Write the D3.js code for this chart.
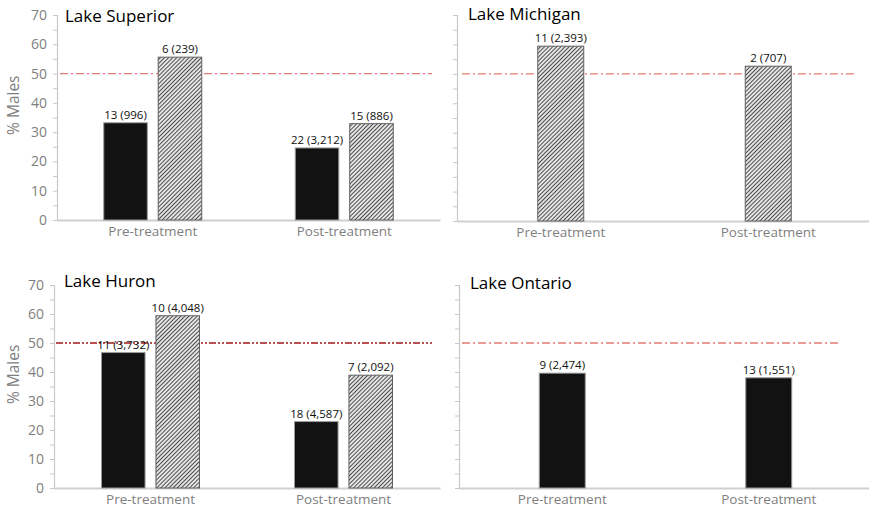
<!DOCTYPE html>
<html>
<head>
<meta charset="utf-8">
<script src="https://cdn.jsdelivr.net/npm/d3@7"></script>
<style>
  html, body { margin: 0; padding: 0; background: #fff; }
  svg { display: block; font-family: "Open Sans", sans-serif; }
</style>
</head>
<body>
<svg id="chart" width="869" height="512"></svg>
<script>
// Sex ratio (% males) of sampled lamprey, before and after treatment, per lake.
const lakes = ["Lake Superior", "Lake Michigan", "Lake Huron", "Lake Ontario"];
const categories = ["Pre-treatment", "Post-treatment"];
const yTicks = [0, 10, 20, 30, 40, 50, 60, 70];
const referenceValue = 50;

// Solid (black) series per lake: [pre, post]
const solidValues = [[33.2, 24.6], [null, null], [46.7, 22.9], [39.6, 38.0]];
const solidLabels = [["13 (996)", "22 (3,212)"], [null, null], ["11 (3,732)", "18 (4,587)"], ["9 (2,474)", "13 (1,551)"]];

// Hatched series per lake: [pre, post]
const hatchedValues = [[55.6, 32.9], [59.4, 52.6], [59.4, 38.9], [null, null]];
const hatchedLabels = [["6 (239)", "15 (886)"], ["11 (2,393)", "2 (707)"], ["10 (4,048)", "7 (2,092)"], [null, null]];

// Panel geometry
const panels = [
  { x0: 57,  x1: 440, top: 15,  bottom: 220, yLabels: true,  titleDx: 8,  titleDy: 7, refColor: "#e57b74", refDash: "8,3,2,3", refX: [60, 432] },
  { x0: 457, x1: 872, top: 15,  bottom: 221, yLabels: false, titleDx: 11, titleDy: 5, refColor: "#e57b74", refDash: "8,3,2,3", refX: [462, 857] },
  { x0: 54,  x1: 440, top: 285, bottom: 488, yLabels: true,  titleDx: 10, titleDy: 2, refColor: "#a01818", refDash: "7,2,2,2,2,2", refX: [56, 432] },
  { x0: 459, x1: 872, top: 285, bottom: 488, yLabels: false, titleDx: 11, titleDy: 4, refColor: "#e57b74", refDash: "8,3,2,3", refX: [462, 838] }
];

const svg = d3.select("#chart");

// Diagonal hatch fill
const hs = 2.9;
const defs = svg.append("defs");
const pat = defs.append("pattern")
  .attr("id", "hatch")
  .attr("patternUnits", "userSpaceOnUse")
  .attr("width", hs).attr("height", hs)
  .attr("patternTransform", "rotate(45)");
pat.append("rect").attr("width", hs).attr("height", hs).attr("fill", "#e4e4e4");
pat.append("line").attr("x1", 0).attr("y1", 0).attr("x2", 0).attr("y2", hs)
  .attr("stroke", "#2a2a2a").attr("stroke-width", 1.6);

lakes.forEach((lake, i) => {
  const p = panels[i];
  const g = svg.append("g");

  const y = d3.scaleLinear().domain([0, 70]).range([p.bottom, p.top]);
  const x0 = d3.scaleBand().domain(categories).range([p.x0, p.x1]).padding(0);

  const hasSolid = solidValues[i].some(v => v != null);
  const hasHatched = hatchedValues[i].some(v => v != null);
  const series = [];
  if (hasSolid) series.push("solid");
  if (hasHatched) series.push("hatched");

  const groupW = series.length === 2 ? 98 : 46;
  const x1 = d3.scaleBand().domain(series).range([0, groupW]).paddingInner(series.length === 2 ? 0.2 : 0);

  // y axis
  const yAxis = d3.axisLeft(y)
    .tickValues(d3.range(0, 71, 5))
    .tickSize(4)
    .tickPadding(6)
    .tickFormat(d => (p.yLabels && yTicks.includes(d)) ? d : "");
  const ya = g.append("g").attr("transform", `translate(${p.x0},0)`).call(yAxis);
  ya.select(".domain").attr("stroke", "#c8c8c8").attr("stroke-width", 1.2);
  ya.selectAll(".tick line").attr("stroke", "#c8c8c8");
  ya.selectAll(".tick text")
    .attr("fill", "#808080")
    .style("font-size", "14px")
    .style("font-family", "'Open Sans', sans-serif");

  // x axis
  const xAxis = d3.axisBottom(x0).tickSize(0).tickPadding(6);
  const xa = g.append("g").attr("transform", `translate(0,${p.bottom})`).call(xAxis);
  xa.select(".domain").attr("stroke", "#d0d0d0").attr("stroke-width", 2);
  xa.selectAll(".tick text")
    .attr("fill", "#808080")
    .style("font-size", "13.5px")
    .style("font-family", "'Open Sans', sans-serif");

  // reference line at 50%
  g.append("line")
    .attr("x1", p.refX[0]).attr("x2", p.refX[1])
    .attr("y1", y(referenceValue)).attr("y2", y(referenceValue))
    .attr("stroke", p.refColor)
    .attr("stroke-width", 1.3)
    .attr("stroke-dasharray", p.refDash);

  // bars
  const rows = [];
  categories.forEach((c, j) => {
    if (hasSolid && solidValues[i][j] != null)
      rows.push({ cat: c, s: "solid", v: solidValues[i][j], label: solidLabels[i][j] });
    if (hasHatched && hatchedValues[i][j] != null)
      rows.push({ cat: c, s: "hatched", v: hatchedValues[i][j], label: hatchedLabels[i][j] });
  });

  const barX = d => x0(d.cat) + (x0.bandwidth() - groupW) / 2 + x1(d.s);

  g.selectAll("rect.bar").data(rows).join("rect")
    .attr("class", "bar")
    .attr("x", barX)
    .attr("y", d => y(d.v))
    .attr("width", x1.bandwidth())
    .attr("height", d => y(0) - y(d.v))
    .attr("fill", d => d.s === "solid" ? "#121212" : "url(#hatch)")
    .attr("stroke", d => d.s === "solid" ? "#9a9a9a" : "#606060")
    .attr("stroke-width", 1);

  g.selectAll("text.val").data(rows).join("text")
    .attr("class", "val")
    .attr("x", d => barX(d) + x1.bandwidth() / 2)
    .attr("y", d => y(d.v) - 4)
    .attr("text-anchor", "middle")
    .attr("fill", "#111")
    .style("font-size", "11.5px")
    .text(d => d.label);

  // title
  g.append("text")
    .attr("x", p.x0 + p.titleDx)
    .attr("y", p.top + p.titleDy)
    .attr("fill", "#000")
    .style("font-size", "17px")
    .text(lake);

  // y axis title
  if (p.yLabels) {
    const cy = p.top + (p.bottom - p.top) * 0.44;
    g.append("text")
      .attr("transform", `translate(19,${cy}) rotate(-90)`)
      .attr("text-anchor", "middle")
      .attr("fill", "#808080")
      .style("font-size", "15.5px")
      .text("% Males");
  }
});
</script>
</body>
</html>
